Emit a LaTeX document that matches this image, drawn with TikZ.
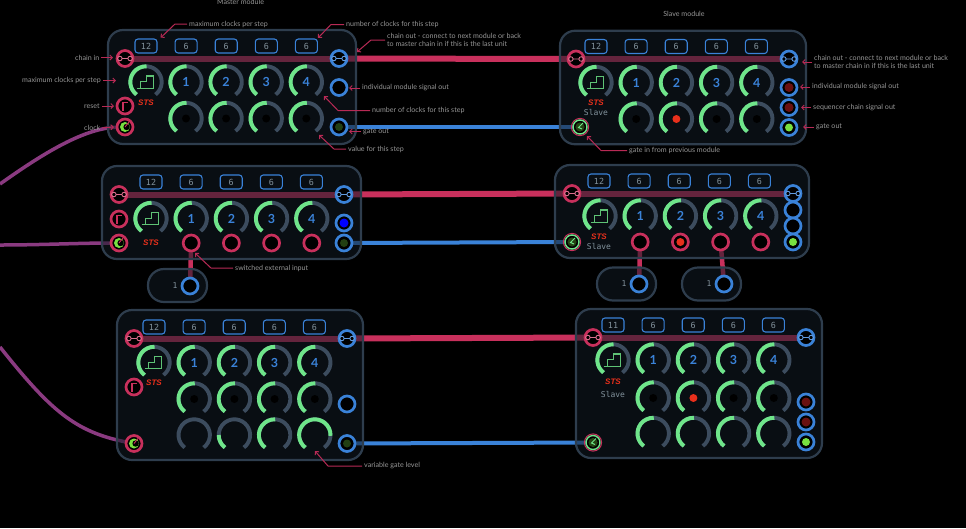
\documentclass[tikz,border=0pt]{standalone}
\usepackage{fontspec}
\setmainfont{Lato}
\setmonofont{DejaVu Sans Mono}
\newfontfamily\stsfont{Liberation Sans}
\usetikzlibrary{arrows.meta,backgrounds}
\definecolor{pane}{HTML}{121B24}
\definecolor{edge}{HTML}{2E3D4D}
\definecolor{rd}{HTML}{C8305C}
\definecolor{bl}{HTML}{3A82D8}
\definecolor{pu}{HTML}{8A3A80}
\definecolor{gn}{HTML}{6FE58A}
\definecolor{dim}{HTML}{3C4C5E}
\definecolor{lit}{HTML}{78E040}
\definecolor{off}{HTML}{6A1010}
\definecolor{lab}{HTML}{969696}
\definecolor{mono}{HTML}{82929C}
\definecolor{acc}{HTML}{B82A55}
\definecolor{sts}{HTML}{E8301C}
\tikzset{
  panel/.style={draw=edge,line width=2.2pt,fill=pane,fill opacity=0.55,rounded corners=15pt,inner sep=0pt,outer sep=0pt},
  pill/.style={panel,rounded corners=16pt,minimum width=59pt,minimum height=33pt},
  cbox/.style={draw=bl,line width=1.1pt,rounded corners=3pt,minimum width=22pt,minimum height=14pt,inner sep=0pt,font=\fontsize{8.4}{8.4}\ttfamily,text=mono},
  sock/.style={circle,fill=black,line width=2.7pt,minimum size=16pt,inner sep=0pt,outer sep=0pt},
  sockr/.style={sock,draw=rd},
  sockb/.style={sock,draw=bl},
  lampg/.style={circle,fill=lit,minimum size=8pt,inner sep=0pt},
  lampd/.style={circle,fill=lit!28!black,minimum size=8pt,inner sep=0pt},
  lampo/.style={circle,fill=off,minimum size=9pt,inner sep=0pt},
  lampb/.style={circle,fill=blue,minimum size=9pt,inner sep=0pt},
  lampr/.style={circle,fill=sts,minimum size=8pt,inner sep=0pt},
  stepdot/.style={circle,fill=black,minimum size=8pt,inner sep=0pt},
  dialnode/.style={circle,minimum size=31.4pt,inner sep=0pt,outer sep=0pt,font=\fontsize{12.5}{12.5}\selectfont\bfseries,text=bl},
  dialoff/.style={draw=dim,line width=3.9pt},
  dialon/.style={draw=gn,line width=3.9pt},
  stair/.style={draw=gn!85!black,line width=1.1pt},
  icon/.style={line width=0.9pt},
  chainc/.style={draw=rd,line width=6pt},
  gatec/.style={draw=bl,line width=4pt},
  clockc/.style={draw=pu,line width=3.5pt},
  swc/.style={draw=rd,line width=4.5pt},
  lab/.style={font=\fontsize{7.1}{8.3}\selectfont,text=lab,anchor=west,inner sep=0pt,align=left},
  note/.style={-{Straight Barb[length=2.5pt,width=5pt]},draw=acc,line width=1pt,shorten <=2pt},
  ststext/.style={font=\fontsize{8}{8}\stsfont\bfseries\itshape,text=sts,inner sep=0pt},
  slavetext/.style={font=\fontsize{8}{8}\ttfamily,text=mono,inner sep=0pt},
}
\newcommand{\dial}[5]{%
  \node[dialnode] (#1) at (#2,#3) {#5};
  \draw[dialoff] (#1.-53) arc[start angle=-53,end angle=233,radius=15.7pt];
  \draw[dialon] (#1.233) arc[start angle=233,end angle=#4,radius=15.7pt];}
\newcommand{\countrow}[4]{%
  \foreach \i/\v in {0/#4,1/6,2/6,3/6,4/6} \node[cbox] (#1c\i) at (#2+40.1*\i,#3) {\v};}
\newcommand{\stairs}[1]{%
  \draw[stair,shift={(#1.center)}] (-9.3,6.3) -- (7.3,6.3) -- (7.3,-6) -- (0.7,-6) -- (0.7,-0.3) -- (-5.3,-0.3) -- (-5.3,6.3);}
\newcommand{\chainicon}[2]{%
  \draw[icon,draw=#2,shift={(#1.center)}] (-5.2,0) circle[radius=2.3pt] (-2.9,0) -- (2.9,0) (5.2,0) circle[radius=2.3pt];}
\newcommand{\reseticon}[1]{%
  \draw[draw=rd,line width=1.8pt,shift={(#1.center)}] (-2,4.5) -- (-2,-3.5) -- (3,-3.5);}
\newcommand{\clockicon}[1]{%
  \fill[lit,shift={(#1.center)}] (0,0) circle[radius=5pt];
  \fill[black,shift={(#1.center)}] (1.6,0) circle[radius=3.2pt];
  \draw[draw=rd,line width=0.9pt,shift={(#1.center)}] (0,0) -- (4,-5);}
\newcommand{\gatein}[1]{%
  \draw[draw=rd,line width=1pt] (#1) circle[radius=8.6pt];
  \draw[draw=gn,line width=1.4pt,fill=black] (#1) circle[radius=7pt];
  \fill[lit!30!black,shift={(#1.center)}] (0,0) circle[radius=4.6pt];
  \draw[draw=gn,line width=1pt,shift={(#1.center)}] (3,-4) -- (-1.5,0.5) -- (2,2);}
\newcommand{\callout}[7]{%
  \node[lab] (#1) at (#2,#3) {#4};
  \coordinate (#1b) at (#5,#3);
  \coordinate (#1t) at (#6,#7);
  \draw[note] (#1.west) -- (#1b) -- (#1t);}
\begin{document}
\begin{tikzpicture}[x=1pt,y=-1pt]
\useasboundingbox (0,0) rectangle (966,528);
\begin{scope}[on background layer]
\fill[black] (0,0) rectangle (966,528);
\end{scope}
\node[panel,minimum width=248pt,minimum height=114pt] (m1) at (232,87) {};
\node[panel,minimum width=246pt,minimum height=113.5pt] (s1) at (683,87.5) {};
\node[panel,minimum width=259pt,minimum height=93pt] (m2) at (231.5,212.5) {};
\node[panel,minimum width=254pt,minimum height=93pt] (s2) at (682,211.5) {};
\node[panel,minimum width=246pt,minimum height=150pt] (m3) at (240,385) {};
\node[panel,minimum width=246pt,minimum height=149pt] (s3) at (699,383.5) {};
\node[pill] (e1) at (177.5,285.5) {};
\node[pill] (e2) at (626.5,284) {};
\node[pill] (e3) at (711.5,284) {};

\node[lab,anchor=center] (mtitle) at (240.5,2) {Master module};
\node[lab,anchor=center] (stitle) at (684,13.5) {Slave module};

% top row
\countrow{m1}{146}{46}{12}
\dial{m1s}{146}{82}{88}{} \stairs{m1s}
\foreach \i in {1,...,4} {\dial{m1a\i}{145.9+40.1*\i}{82}{88}{\i}}
\foreach \i in {1,...,4} {\dial{m1b\i}{145.9+40.1*\i}{118.5}{88}{} \node[stepdot] (m1d\i) at (m1b\i) {};}
\node[sockr] (m1in) at (125,58.5) {}; \chainicon{m1in}{rd!70!white}
\node[sockr] (m1rst) at (125,106) {}; \reseticon{m1rst}
\node[sockr] (m1clk) at (125,127) {}; \clockicon{m1clk}
\node[sockb] (m1out) at (339,58.5) {}; \chainicon{m1out}{bl!80!white}
\node[sockb] (m1sig) at (339,87.5) {};
\node[sockb] (m1gt) at (339,127) {}; \node[lampd] (m1gl) at (m1gt) {};
\node[ststext] (m1sts) at (146,103) {STS};

\countrow{s1}{596}{46.5}{12}
\dial{s1s}{596}{82.5}{88}{} \stairs{s1s}
\foreach \i in {1,...,4} {\dial{s1a\i}{596+40.2*\i}{82.5}{88}{\i}}
\foreach \i in {1,...,4} {\dial{s1b\i}{596+40.2*\i}{119}{88}{} \node[stepdot] (s1d\i) at (s1b\i) {};}
\node[lampr] (s1lit) at (s1b2) {};
\node[sockr] (s1in) at (576,59) {}; \chainicon{s1in}{rd!70!white}
\node[sockb] (s1out) at (789,59) {}; \chainicon{s1out}{bl!80!white}
\node[sockb] (s1o1) at (789,87.5) {}; \node[lampo] (s1l1) at (s1o1) {};
\node[sockb] (s1o2) at (789,107.5) {}; \node[lampo] (s1l2) at (s1o2) {};
\node[sockb] (s1o3) at (789,127.5) {}; \node[lampg] (s1l3) at (s1o3) {};
\node[coordinate] (s1gi) at (580,127) {}; \gatein{s1gi}
\node[ststext] (s1sts) at (596,103) {STS};
\node[slavetext] (s1sl) at (596,112) {Slave};

% middle row
\countrow{m2}{151}{182}{12}
\dial{m2s}{151}{218.5}{88}{} \stairs{m2s}
\foreach \i in {1,...,4} {\dial{m2a\i}{151+40.2*\i}{218.5}{88}{\i}}
\foreach \i in {1,...,4} {\node[sockr] (m2x\i) at (151+40.2*\i,243) {};}
\node[sockr] (m2in) at (119,194.5) {}; \chainicon{m2in}{rd!70!white}
\node[sockr] (m2rst) at (119,219) {}; \reseticon{m2rst}
\node[sockr] (m2clk) at (119,243) {}; \clockicon{m2clk}
\node[sockb] (m2out) at (344,194.5) {}; \chainicon{m2out}{bl!80!white}
\node[sockb] (m2sig) at (344,223) {}; \node[lampb] (m2sl) at (m2sig) {};
\node[sockb] (m2gt) at (344,243) {}; \node[lampd] (m2gl) at (m2gt) {};
\node[ststext] (m2sts) at (151,243) {STS};
\node[sockb] (e1s) at (190,286) {}; \node[slavetext] (e1n) at (175,286) {1};

\countrow{s2}{599}{181}{12}
\dial{s2s}{600}{216}{88}{} \stairs{s2s}
\foreach \i in {1,...,4} {\dial{s2a\i}{600+40.2*\i}{216}{88}{\i}}
\foreach \i in {1,...,4} {\node[sockr] (s2x\i) at (600+40.2*\i,242) {};}
\node[lampr] (s2lit) at (s2x2) {};
\node[sockr] (s2in) at (572,193.5) {}; \chainicon{s2in}{rd!70!white}
\node[coordinate] (s2gi) at (572,242) {}; \gatein{s2gi}
\node[sockb] (s2o1) at (793,210) {};
\node[sockb] (s2o2) at (793,226) {};
\node[sockb] (s2o3) at (793,242) {}; \node[lampg] (s2l3) at (s2o3) {};
\node[sockb] (s2out) at (793,193.5) {}; \chainicon{s2out}{bl!80!white}
\node[ststext] (s2sts) at (599,237) {STS};
\node[slavetext] (s2sl) at (599,246) {Slave};
\node[sockb] (e2s) at (639,284) {}; \node[slavetext] (e2n) at (624,284) {1};
\node[sockb] (e3s) at (724,284) {}; \node[slavetext] (e3n) at (709,284) {1};

% bottom row
\countrow{m3}{154}{327}{12}
\dial{m3s}{154}{362.5}{88}{} \stairs{m3s}
\foreach \i in {1,...,4} {\dial{m3a\i}{154+40.2*\i}{362.5}{88}{\i}}
\foreach \i in {1,...,4} {\dial{m3b\i}{154+40.2*\i}{399}{88}{} \node[stepdot] (m3d\i) at (m3b\i) {};}
\dial{m3g1}{194.2}{435}{233}{}
\dial{m3g2}{234.4}{435}{180}{}
\dial{m3g3}{274.6}{435}{88}{}
\dial{m3g4}{314.8}{435}{-3}{}
\node[sockr] (m3in) at (134,338.5) {}; \chainicon{m3in}{rd!70!white}
\node[sockr] (m3rst) at (134,387) {}; \reseticon{m3rst}
\node[sockr] (m3clk) at (134,443.5) {}; \clockicon{m3clk}
\node[sockb] (m3out) at (347,338.5) {}; \chainicon{m3out}{bl!80!white}
\node[sockb] (m3sig) at (347,404) {};
\node[sockb] (m3gt) at (347,443.5) {}; \node[lampd] (m3gl) at (m3gt) {};
\node[ststext] (m3sts) at (154,383) {STS};

\countrow{s3}{613}{325}{11}
\dial{s3s}{613}{360}{88}{} \stairs{s3s}
\foreach \i in {1,...,4} {\dial{s3a\i}{613+40.2*\i}{360}{88}{\i}}
\foreach \i in {1,...,4} {\dial{s3b\i}{613+40.2*\i}{398}{88}{} \node[stepdot] (s3d\i) at (s3b\i) {};}
\foreach \i in {1,...,4} {\dial{s3g\i}{613+40.2*\i}{433.5}{88}{}}
\node[lampr] (s3lit) at (s3b2) {};
\node[sockr] (s3in) at (593,337.5) {}; \chainicon{s3in}{rd!70!white}
\node[coordinate] (s3gi) at (593,442.5) {}; \gatein{s3gi}
\node[sockb] (s3out) at (806,337.5) {}; \chainicon{s3out}{bl!80!white}
\node[sockb] (s3o1) at (806,402) {}; \node[lampo] (s3l1) at (s3o1) {};
\node[sockb] (s3o2) at (806,422) {}; \node[lampo] (s3l2) at (s3o2) {};
\node[sockb] (s3o3) at (806,442) {}; \node[lampg] (s3l3) at (s3o3) {};
\node[ststext] (s3sts) at (613,382) {STS};
\node[slavetext] (s3sl) at (613,394) {Slave};

% cables go under the panels
\coordinate (clk1) at (0,184); \coordinate (clk2) at (0,245); \coordinate (clk3) at (0,347);
\begin{scope}[on background layer]
\draw[chainc] (m1in) -- (m1out); \draw[chainc] (m1out) -- (s1in); \draw[chainc] (s1in) -- (s1out);
\draw[chainc] (m2in) -- (m2out); \draw[chainc] (m2out) -- (s2in); \draw[chainc] (s2in) -- (s2out);
\draw[chainc] (m3in) -- (m3out); \draw[chainc] (m3out) -- (s3in); \draw[chainc] (s3in) -- (s3out);
\draw[gatec] (m1gt) -- (s1gi); \draw[gatec] (m2gt) -- (s2gi); \draw[gatec] (m3gt) -- (s3gi);
\draw[swc] (m2x1) -- (e1s); \draw[swc] (s2x1) -- (e2s); \draw[swc] (s2x3) -- (e3s);
\draw[clockc] (clk1) .. controls (45,152) and (85,128) .. (m1clk);
\draw[clockc] (clk2) .. controls (40,245) and (80,243) .. (m2clk);
\draw[clockc] (clk3) .. controls (50,410) and (75,432) .. (m3clk);
\end{scope}

% notes
\callout{nmax}{189}{24}{maximum clocks per step}{175}{160.7}{37.7}
\callout{nnum}{346}{24.5}{number of clocks for this step}{331}{318}{38}
\callout{nout}{387}{40}{chain out - connect to next module or back\\to master chain in if this is the last unit}{371}{357}{52}
\callout{nval}{372}{110.5}{number of clocks for this step}{338}{324}{96}
\callout{nstep}{348}{149}{value for this step}{334}{319}{135}
\callout{ngin}{629}{150.5}{gate in from previous module}{601}{587}{136}
\callout{nsw}{235}{268}{switched external input}{211}{195}{253}
\callout{nvar}{364}{466}{variable gate level}{328}{315}{451}
\node[lab] (lin) at (75,57.5) {chain in}; \draw[note] (lin.east) -- (113,57.5);
\node[lab] (lmax) at (22,80.5) {maximum clocks per step}; \draw[note] (lmax.east) -- (116,80.5);
\node[lab] (lrst) at (84,106) {reset}; \draw[note] (lrst.east) -- (114,106);
\node[lab] (lclk) at (84,128) {clock}; \draw[note] (lclk.east) -- (114,127);
\node[lab] (lsig) at (362,88) {individual module signal out}; \draw[note] (lsig.west) -- (349,88);
\node[lab] (lgt) at (363,131.5) {gate out}; \draw[note] (lgt.west) -- (349,131.5);
\node[lab] (rout) at (814,62) {chain out - connect to next module or back\\to master chain in if this is the last unit}; \draw[note] (rout.west) -- (802,62);
\node[lab] (rsig) at (812,87) {individual module signal out}; \draw[note] (rsig.west) -- (800,87);
\node[lab] (rseq) at (813,107.5) {sequencer chain signal out}; \draw[note] (rseq.west) -- (801,107.5);
\node[lab] (rgt) at (816,127) {gate out}; \draw[note] (rgt.west) -- (803,127);
\end{tikzpicture}
\end{document}
